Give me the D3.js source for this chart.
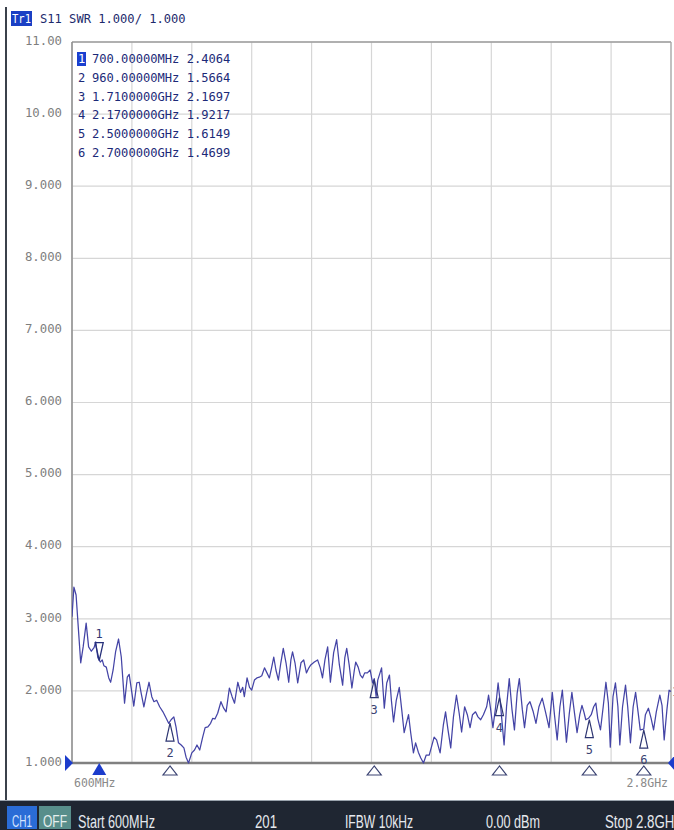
<!DOCTYPE html>
<html><head><meta charset="utf-8">
<script src="https://cdn.jsdelivr.net/npm/d3@7"></script>
<style>
html,body{margin:0;padding:0;background:#fff;overflow:hidden;}
svg{display:block;}
</style></head><body>
<script>
// ---- data ----
const traceFreqMHz = [
  600,607,615,622,632,641,652,661,671,681,
  687,695,704,711,717,726,735,742,751,760,
  771,781,787,793,803,810,817,827,838,847,
  854,864,874,883,893,901,911,922,934,946,
  955,964,974,982,991,1001,1011,1019,1028,1040,
  1050,1059,1069,1080,1089,1099,1109,1117,1125,1135,
  1147,1157,1166,1178,1188,1197,1209,1219,1227,1233,
  1243,1252,1260,1270,1279,1288,1297,1307,1316,1325,
  1333,1341,1349,1358,1367,1376,1386,1396,1404,1410,
  1419,1429,1441,1451,1461,1470,1477,1490,1502,1512,
  1520,1529,1539,1549,1561,1572,1582,1594,1602,1609,
  1618,1628,1637,1642,1651,1659,1667,1675,1685,1695,
  1704,1710,1717,1723,1737,1747,1756,1766,1773,1781,
  1791,1802,1811,1820,1828,1836,1844,1854,1862,1872,
  1881,1891,1901,1912,1930,1939,1952,1964,1972,1981,
  1991,2001,2012,2022,2031,2042,2052,2062,2071,2082,
  2091,2101,2111,2123,2130,2137,2146,2156,2165,2174,
  2187,2196,2206,2216,2225,2235,2243,2254,2262,2272,
  2282,2294,2304,2315,2327,2339,2352,2364,2372,2382,
  2392,2401,2410,2416,2426,2436,2445,2455,2465,2473,
  2480,2487,2497,2507,2516,2524,2531,2541,2551,2561,
  2570,2577,2587,2596,2605,2612,2622,2633,2641,2651,
  2661,2670,2679,2687,2700,2706,2717,2727,2736,2746,
  2759,2767,2775,2785,2793,2800
];
const traceSWR = [
  3.03,3.44,3.33,2.94,2.39,2.61,2.94,2.61,2.55,2.60,
  2.68,2.46,2.40,2.43,2.35,2.33,2.18,2.12,2.29,2.54,
  2.72,2.47,2.15,1.83,2.19,2.23,2.05,1.79,2.11,2.12,
  1.97,1.78,1.97,2.12,1.92,1.85,1.87,1.78,1.71,1.62,
  1.55,1.60,1.64,1.50,1.28,1.25,1.21,1.08,1.00,1.14,
  1.18,1.25,1.18,1.36,1.49,1.50,1.55,1.62,1.61,1.69,
  1.85,1.76,1.71,2.04,1.92,1.83,2.12,1.98,2.05,1.92,
  2.18,2.05,2.01,2.15,2.18,2.19,2.21,2.32,2.25,2.18,
  2.32,2.47,2.29,2.15,2.39,2.59,2.39,2.12,2.43,2.54,
  2.39,2.11,2.39,2.43,2.25,2.32,2.36,2.40,2.43,2.32,
  2.18,2.43,2.61,2.12,2.53,2.71,2.36,2.08,2.46,2.59,
  2.36,2.04,2.29,2.40,2.33,2.22,2.18,2.25,2.25,2.29,
  2.11,2.17,1.92,2.15,2.32,1.76,2.11,2.22,1.87,1.57,
  1.87,2.05,1.74,1.42,1.55,1.67,1.42,1.14,1.28,1.15,
  1.07,1.00,1.11,1.11,1.36,1.32,1.14,1.53,1.71,1.46,
  1.21,1.64,1.94,1.69,1.43,1.78,1.67,1.49,1.67,1.71,
  1.64,1.60,1.67,1.78,1.94,1.76,1.49,1.78,2.11,1.80,
  1.25,1.78,2.17,1.74,1.46,1.97,2.17,1.74,1.49,1.80,
  1.85,1.71,1.55,1.78,1.90,1.71,1.49,1.98,1.67,1.32,
  1.78,2.01,1.57,1.29,1.67,1.98,1.71,1.42,1.67,1.80,
  1.71,1.60,1.62,1.67,1.78,1.83,1.62,1.46,1.78,2.12,
  1.83,1.22,1.92,2.11,1.78,1.25,1.78,2.08,1.78,1.28,
  1.78,1.98,1.71,1.46,1.47,1.67,1.76,1.62,1.46,1.71,
  1.94,1.80,1.32,1.74,2.01,1.99
];
const markerIds = [1,2,3,4,5,6];
const markerFreqMHz = [700,960,1710,2170,2500,2700];
const markerSWR = [2.4064,1.5664,2.1697,1.9217,1.6149,1.4699];
const markerFreqLabels = ["700.00000MHz","960.00000MHz","1.7100000GHz","2.1700000GHz","2.5000000GHz","2.7000000GHz"];
const yTickValues = [1,2,3,4,5,6,7,8,9,10,11];
const yTickLabels = ["1.000","2.000","3.000","4.000","5.000","6.000","7.000","8.000","9.000","10.00","11.00"];
const xGridMHz = [600,820,1040,1260,1480,1700,1920,2140,2360,2580,2800];
const traceName = "Tr1";
const traceTitle = "S11 SWR 1.000/ 1.000";
const startLabel = "600MHz";
const stopLabel = "2.8GHz";
const channelLabels = ["CH1","OFF"];
const statusItems = ["Start 600MHz","201","IFBW 10kHz","0.00 dBm","Stop 2.8GHz"];

// ---- drawing ----
const W = 674, H = 830;
const L = 72, R = 671, T = 42, B = 763;
const MONO = "'DejaVu Sans Mono', 'Liberation Mono', monospace";
const NARROW = "'Liberation Sans Narrow', 'Liberation Sans', Arial, sans-serif";

const svg = d3.select("body").append("svg").attr("width", W).attr("height", H);
svg.append("rect").attr("width", W).attr("height", H).attr("fill", "#ffffff");

const x = d3.scaleLinear().domain([600, 2800]).range([L, R]);
const y = d3.scaleLinear().domain([1, 11]).range([B, T]);

// left dark edge line
svg.append("rect").attr("x", 5).attr("y", 7).attr("width", 2).attr("height", 794).attr("fill", "#3b414b");

// grid
svg.append("g").selectAll("line").data(xGridMHz).join("line")
  .attr("x1", d => x(d)).attr("x2", d => x(d)).attr("y1", T).attr("y2", B)
  .attr("stroke", "#d6d6d6").attr("stroke-width", 1.2);
svg.append("g").selectAll("line").data(yTickValues).join("line")
  .attr("x1", L).attr("x2", R).attr("y1", d => y(d)).attr("y2", d => y(d))
  .attr("stroke", "#d6d6d6").attr("stroke-width", 1.2);

// frame
svg.append("line").attr("x1", L).attr("x2", R).attr("y1", T).attr("y2", T).attr("stroke", "#9c9c9c").attr("stroke-width", 1.3);
svg.append("line").attr("x1", R).attr("x2", R).attr("y1", T).attr("y2", B).attr("stroke", "#a8a8a8").attr("stroke-width", 1.2);
svg.append("line").attr("x1", L).attr("x2", L).attr("y1", T).attr("y2", B).attr("stroke", "#8c8c8c").attr("stroke-width", 1.5);
svg.append("line").attr("x1", L).attr("x2", R).attr("y1", B).attr("y2", B).attr("stroke", "#808080").attr("stroke-width", 2.4);

// y axis labels
const yAxis = d3.axisLeft(y).tickValues(yTickValues)
  .tickFormat((d, i) => yTickLabels[i]).tickSize(0).tickPadding(10);
const gy = svg.append("g").attr("transform", `translate(${L},0)`).call(yAxis);
gy.select(".domain").remove();
gy.selectAll("text").attr("font-family", MONO).attr("font-size", "12.3px")
  .attr("fill", "#7e7e7e").attr("dy", "0.18em");

// trace
const clip = svg.append("clipPath").attr("id", "plotclip");
clip.append("rect").attr("x", L).attr("y", T).attr("width", R - L + 1).attr("height", B - T + 1);
const line = d3.line().x((d, i) => x(traceFreqMHz[i])).y(d => y(d));
svg.append("path").datum(traceSWR).attr("d", line).attr("fill", "none")
  .attr("stroke", "#4444a6").attr("stroke-width", 1.25).attr("stroke-linejoin", "round")
  .attr("clip-path", "url(#plotclip)");

// on-trace markers
const mk = svg.append("g");
markerIds.forEach((id, i) => {
  const px = x(markerFreqMHz[i]), py = y(markerSWR[i]);
  if (i === 0) {
    mk.append("path").attr("d", `M${px-4},${py-19}L${px+4},${py-19}L${px},${py-1}Z`)
      .attr("fill", "none").attr("stroke", "#26307a").attr("stroke-width", 1.3);
    mk.append("text").attr("x", px).attr("y", py - 24).attr("text-anchor", "middle")
      .attr("font-family", MONO).attr("font-size", "12px").attr("fill", "#2e3672").text(id);
  } else {
    mk.append("path").attr("d", `M${px},${py+1}L${px-4},${py+19}L${px+4},${py+19}Z`)
      .attr("fill", "none").attr("stroke", "#2e3672").attr("stroke-width", 1.2);
    mk.append("text").attr("x", px).attr("y", py + 35).attr("text-anchor", "middle")
      .attr("font-family", MONO).attr("font-size", "12px").attr("fill", "#3a4272").text(id);
  }
});

// markers on x axis
markerIds.forEach((id, i) => {
  const px = x(markerFreqMHz[i]);
  if (i === 0) {
    svg.append("path").attr("d", `M${px},${B}L${px-7},${B+12}L${px+7},${B+12}Z`).attr("fill", "#1c3ccc");
  } else {
    svg.append("path").attr("d", `M${px},${B+3}L${px-7},${B+12}L${px+7},${B+12}Z`)
      .attr("fill", "#fff").attr("stroke", "#3a4272").attr("stroke-width", 1.2);
  }
});
// reference level pointers
svg.append("path").attr("d", `M${L-7},${B-8}L${L+1},${B}L${L-7},${B+8}Z`).attr("fill", "#1c3ccc");
svg.append("path").attr("d", `M${W+1},${B-8}L${R-3},${B}L${W+1},${B+8}Z`).attr("fill", "#1c3ccc");
svg.append("text").attr("x", R + 1).attr("y", y(2) + 5).attr("font-family", MONO)
  .attr("font-size", "12px").attr("fill", "#3a4272").text("1");

// start / stop labels
svg.append("text").attr("x", x(600) + 2).attr("y", 787).attr("font-family", MONO)
  .attr("font-size", "11.5px").attr("fill", "#8a8a8a").text(startLabel);
svg.append("text").attr("x", x(2800) - 3).attr("y", 787).attr("text-anchor", "end")
  .attr("font-family", MONO).attr("font-size", "11.5px").attr("fill", "#8a8a8a").text(stopLabel);

// header
svg.append("rect").attr("x", 11).attr("y", 11).attr("width", 21).attr("height", 15).attr("fill", "#1a3fc4");
svg.append("text").attr("x", 12).attr("y", 23).attr("font-family", MONO).attr("font-size", "11.5px")
  .attr("fill", "#ffffff").attr("textLength", 19).attr("lengthAdjust", "spacingAndGlyphs").text(traceName);
svg.append("text").attr("x", 40).attr("y", 23).attr("font-family", MONO).attr("font-size", "12.1px")
  .attr("fill", "#1c2a6c").text(traceTitle);

// marker table
const tbl = svg.append("g");
markerIds.forEach((id, i) => {
  const by = 63 + i * 18.8;
  if (i === 0) {
    tbl.append("rect").attr("x", 77).attr("y", by - 11).attr("width", 9).attr("height", 14).attr("fill", "#1a3fd0");
  }
  tbl.append("text").attr("x", 78).attr("y", by).attr("font-family", MONO).attr("font-size", "12.1px")
    .attr("fill", i === 0 ? "#ffffff" : "#1c2a78").text(id);
  tbl.append("text").attr("x", 92).attr("y", by).attr("font-family", MONO).attr("font-size", "12.1px")
    .attr("fill", "#1c2a78").text(`${markerFreqLabels[i]} ${markerSWR[i].toFixed(4)}`);
});

// status bar
svg.append("line").attr("x1", 0).attr("x2", W).attr("y1", 800.5).attr("y2", 800.5).attr("stroke", "#9aa3ad");
svg.append("rect").attr("x", 0).attr("y", 801).attr("width", W).attr("height", 29).attr("fill", "#1f2632");
svg.append("rect").attr("x", 7).attr("y", 806).attr("width", 30).attr("height", 23).attr("fill", "#2a6cd6");
svg.append("rect").attr("x", 39).attr("y", 806).attr("width", 32).attr("height", 23).attr("fill", "#588e8b");
svg.append("text").attr("x", 12).attr("y", 827).attr("font-family", NARROW).attr("font-size", "17px")
  .attr("fill", "#d4e4ff").attr("textLength", 20).attr("lengthAdjust", "spacingAndGlyphs").text(channelLabels[0]);
svg.append("text").attr("x", 43).attr("y", 827).attr("font-family", NARROW).attr("font-size", "17px")
  .attr("fill", "#e4efee").attr("textLength", 24).attr("lengthAdjust", "spacingAndGlyphs").text(channelLabels[1]);
const statusX = [78, 255, 345, 486, 605];
const statusLen = [77, 22, 68, 54, 76];
statusItems.forEach((s, i) => {
  svg.append("text").attr("x", statusX[i]).attr("y", 828).attr("font-family", NARROW)
    .attr("font-size", "18px").attr("fill", "#e6e9ee")
    .attr("textLength", statusLen[i]).attr("lengthAdjust", "spacingAndGlyphs").text(s);
});
</script>
</body></html>
